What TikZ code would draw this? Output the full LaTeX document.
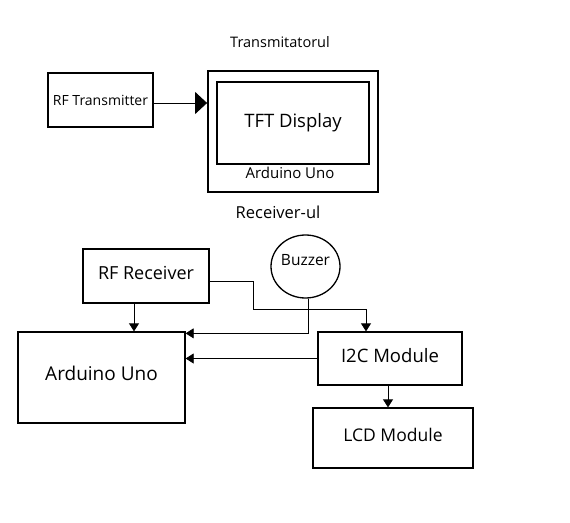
\documentclass[tikz,border=0pt]{standalone}
\usepackage{fontspec}
\setmainfont{Open Sans}
\usetikzlibrary{arrows.meta}
\usetikzlibrary{shapes.geometric}
\tikzset{
	blok/.style={draw,rectangle,inner sep=0pt,line width=1.3pt},
	modul/.style={blok,text depth=7pt},
	blokgros/.style={draw,rectangle,inner sep=0pt,line width=1.8pt},
	fir/.style={line width=0.8pt,-{Triangle[length=8pt,width=10pt]}},
	firmare/.style={line width=0.8pt,-{Triangle[length=12pt,width=22pt]}}
}

\begin{document}
\begin{tikzpicture}[x=1pt,y=-1pt]
	\useasboundingbox (0,0) rectangle (570,522);

	% transmitatorul
	\node[font=\fontsize{14.5}{16}\selectfont] (titlu1) at (280,42) {Transmitatorul};
	\node[blok,minimum width=105,minimum height=54,font=\fontsize{14}{16}\selectfont] (tx) at (100.5,100) {RF Transmitter};
	\node[blokgros,minimum width=170,minimum height=121] (ardtx) at (293,131.5) {};
	\node[blokgros,minimum width=152,minimum height=82,font=\fontsize{18.5}{20}\selectfont] (tft) at (293,123) {TFT Display};
	\node[font=\fontsize{15}{17}\selectfont] (ardtxt) at (290,173) {Arduino Uno};
	\draw[firmare] ([yshift=-3pt]tx.east) -- ([yshift=-3pt]tx.east -| ardtx.west);

	% receiver-ul
	\node[font=\fontsize{16.5}{18}\selectfont] (titlu2) at (278,212) {Receiver-ul};
	\node[modul,minimum width=126,minimum height=54,font=\fontsize{18}{20}\selectfont] (rx) at (146,276) {RF Receiver};
	\node[draw,ellipse,line width=1.3pt,minimum width=69,minimum height=63,
		label={[font=\fontsize{15.5}{17}\selectfont,yshift=6pt]center:Buzzer}] (bz) at (305.5,266.5) {};
	\node[modul,minimum width=167,minimum height=91,text depth=9pt,font=\fontsize{19}{21}\selectfont] (ard) at (101.5,377.5) {Arduino Uno};
	\node[modul,minimum width=144,minimum height=53,font=\fontsize{18.5}{20}\selectfont] (i2c) at (390,358.5) {I2C Module};
	\node[modul,minimum width=160,minimum height=60,font=\fontsize{17.5}{20}\selectfont] (lcd) at (393,438) {LCD Module};

	\draw[fir] ([xshift=-12pt]rx.south) -- ([xshift=-12pt]rx.south |- ard.north);
	\draw[fir] ([yshift=-5pt]rx.east) -| ++(44,28) -| ([xshift=-24pt]i2c.north);
	\draw[fir] ([xshift=2.5pt]bz.south) |- ([yshift=-2pt]ard.north east);
	\draw[fir] (i2c.west) -- (i2c.west -| ard.east);
	\draw[fir] ([xshift=-2pt]i2c.south) -- ([xshift=-2pt]i2c.south |- lcd.north);

\end{tikzpicture}
\end{document}
